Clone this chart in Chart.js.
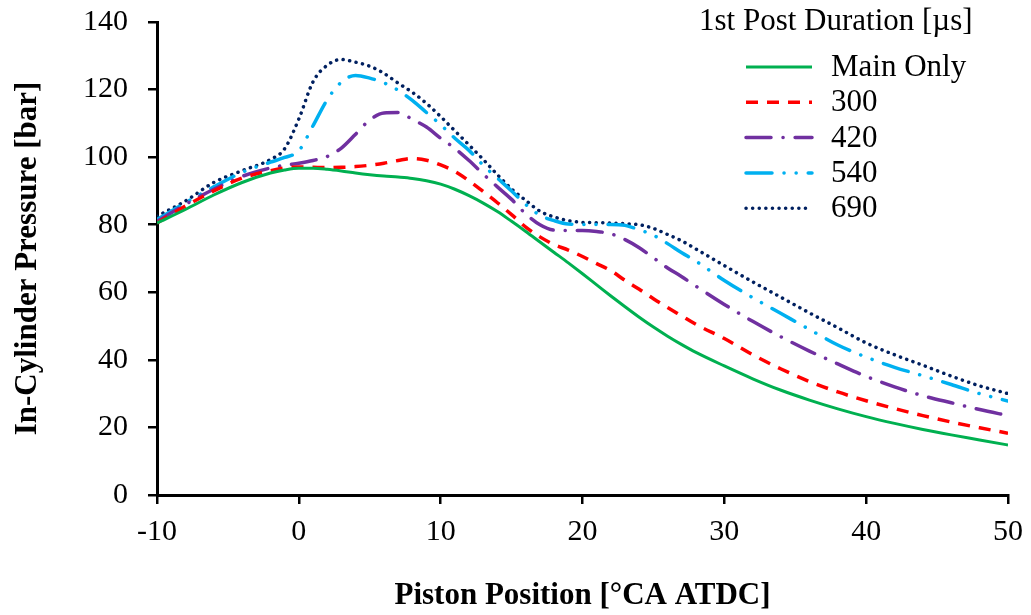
<!DOCTYPE html>
<html>
<head>
<meta charset="utf-8">
<script src="https://cdn.jsdelivr.net/npm/chart.js@4/dist/chart.umd.min.js"></script>
<style>
  body { margin: 0; background: #fff; }
  #wrap { width: 1031px; height: 615px; position: relative; }
</style>
</head>
<body>
<div id="wrap"><canvas id="pressureChart"></canvas></div>
<script>
// crank angle positions [°CA ATDC]
const crankAngle = [-10, -8, -6, -4, -2, -1, 0, 1, 2, 3, 4, 5, 6, 7, 8, 9, 10, 11, 12, 13, 14, 15, 16, 17, 18, 19, 20,
    21, 22, 23, 24, 25, 26, 27, 28, 30, 32, 34, 36, 38, 40, 42, 44, 46, 48, 50];

// in-cylinder pressure [bar] per case
const mainOnly = [80.5, 84.5, 88.8, 92.5, 95.3, 96.2, 96.7, 96.7, 96.4, 95.9, 95.3, 94.8, 94.4, 94.1, 93.7, 93.0, 92.0,
    90.5, 88.6, 86.4, 83.9, 81.0, 78.0, 74.9, 71.8, 68.7, 65.5, 62.2, 58.9, 55.7, 52.6, 49.7, 47.0, 44.5, 42.2,
    38.2, 34.4, 31.0, 28.1, 25.5, 23.2, 21.2, 19.4, 17.8, 16.3, 14.8];
const post300 = [80.5, 85.5, 90.0, 93.8, 96.0, 96.8, 97.1, 97.0, 96.9, 97.0, 97.2, 97.6, 98.2, 99.0, 99.6, 99.1, 97.7,
    95.8, 93.0, 89.8, 86.5, 83.0, 79.3, 76.4, 74.1, 72.5, 70.6, 68.5, 66.4, 63.5, 60.9, 58.1, 55.5, 53.0, 50.5,
    46.3, 41.5, 37.3, 33.6, 30.5, 27.9, 25.6, 23.5, 21.6, 19.9, 18.3];
const post420 = [81.0, 86.0, 90.5, 94.3, 96.8, 97.6, 98.2, 99.0, 100.2, 102.7, 106.8, 111.0, 113.1, 113.2, 111.2, 108.9, 105.6,
    102.6, 99.0, 95.0, 91.2, 87.5, 83.2, 80.0, 78.4, 78.3, 78.3, 78.0, 77.3, 75.6, 73.2, 70.2, 67.2, 64.6, 61.8,
    56.4, 51.4, 46.8, 42.6, 38.8, 35.1, 32.0, 29.4, 27.3, 25.3, 23.5];
const post540 = [81.5, 86.5, 91.2, 95.5, 98.5, 99.9, 101.9, 109.3, 117.0, 122.2, 124.2, 123.4, 122.0, 119.8, 116.8, 113.2, 109.6,
    105.6, 102.0, 97.6, 93.8, 90.0, 86.0, 82.8, 81.2, 80.2, 80.1, 80.1, 80.1, 79.8, 78.5, 76.9, 74.4, 71.7, 69.2,
    63.5, 58.4, 53.7, 49.0, 44.4, 40.8, 37.8, 35.3, 32.7, 30.0, 27.8];
const post690 = [82.5, 87.0, 92.5, 96.0, 99.3, 102.5, 111.3, 122.3, 127.2, 128.9, 128.1, 126.9, 124.8, 121.9, 119.2, 115.9, 112.0,
    107.8, 103.6, 99.3, 94.8, 90.6, 87.2, 84.0, 82.3, 81.2, 80.7, 80.6, 80.5, 80.3, 80.0, 78.9, 77.1, 75.2, 72.8,
    67.9, 63.1, 58.5, 53.9, 49.5, 45.0, 41.5, 38.4, 35.2, 32.3, 30.0];

const seriesNames = ['Main Only', '300', '420', '540', '690'];
const legendTitle = '1st Post Duration [\u00b5s]';
const xTitle = 'Piston Position [\u00b0CA ATDC]';
const yTitle = 'In-Cylinder Pressure [bar]';

const serif = '"Liberation Serif", "Times New Roman", serif';

const toPoints = vals => crankAngle.map((x, i) => ({ x: x, y: vals[i] }));

const styles = [
    { color: '#00B050', dash: [], cap: 'butt', width: 3 },
    { color: '#FF0000', dash: [12, 9], cap: 'butt', width: 3.5 },
    { color: '#7030A0', dash: [25, 12, 0.1, 12], cap: 'round', width: 3.5 },
    { color: '#00B0F0', dash: [26, 12, 0.1, 12, 0.1, 12], cap: 'round', width: 3.5 },
    { color: '#002060', dash: [0.1, 6.5], cap: 'round', width: 3.5 }
];

const allSeries = [mainOnly, post300, post420, post540, post690];

const datasets = allSeries.map((vals, i) => ({
    label: seriesNames[i],
    data: toPoints(vals),
    borderColor: styles[i].color,
    borderDash: styles[i].dash,
    borderCapStyle: styles[i].cap,
    borderWidth: styles[i].width,
    pointRadius: 0,
    fill: false,
    cubicInterpolationMode: 'monotone'
}));

// legend drawn in the empty top-right corner
const cornerLegend = {
    id: 'cornerLegend',
    afterDraw(chart) {
        const ctx = chart.ctx;
        ctx.save();
        ctx.fillStyle = '#000';
        ctx.textBaseline = 'middle';
        ctx.textAlign = 'left';
        ctx.font = '31px ' + serif;
        ctx.fillText(legendTitle, 699, 22);
        chart.data.datasets.forEach((ds, i) => {
            const y = 67 + i * 35.3;
            ctx.beginPath();
            ctx.strokeStyle = ds.borderColor;
            ctx.lineWidth = ds.borderWidth;
            ctx.lineCap = ds.borderCapStyle;
            ctx.setLineDash(ds.borderDash);
            ctx.moveTo(746, y);
            ctx.lineTo(812, y);
            ctx.stroke();
            ctx.setLineDash([]);
            ctx.fillText(ds.label, 831, y + 1);
        });
        ctx.restore();
    }
};

new Chart(document.getElementById('pressureChart'), {
    type: 'line',
    data: { datasets: datasets },
    options: {
        responsive: true,
        maintainAspectRatio: false,
        animation: false,
        layout: { padding: { top: 22, right: 23, left: 0, bottom: 0 } },
        plugins: { legend: { display: false }, tooltip: { enabled: false } },
        scales: {
            x: {
                type: 'linear',
                min: -10, max: 50,
                afterFit: s => { s.height = 120; s.paddingLeft = 0; s.paddingRight = 0; },
                ticks: { stepSize: 10, color: '#000', padding: 10, font: { family: serif, size: 30 } },
                grid: { drawOnChartArea: false, drawTicks: true, tickLength: 9, color: '#000', lineWidth: 2.5 },
                border: { display: true, color: '#000', width: 3 },
                title: { display: true, text: xTitle, color: '#000', padding: { top: 0, bottom: 0 },
                    font: { family: serif, size: 31, weight: 'bold' } }
            },
            y: {
                min: 0, max: 140,
                afterFit: s => { s.width = 157; s.paddingTop = 0; s.paddingBottom = 0; },
                ticks: { stepSize: 20, color: '#000', padding: 20, font: { family: serif, size: 30 } },
                grid: { drawOnChartArea: false, drawTicks: true, tickLength: 9, color: '#000', lineWidth: 2.5 },
                border: { display: true, color: '#000', width: 3 },
                title: { display: true, text: yTitle, color: '#000', padding: { top: 9, bottom: 0 },
                    font: { family: serif, size: 31, weight: 'bold' } }
            }
        }
    },
    plugins: [cornerLegend]
});
</script>
</body>
</html>
